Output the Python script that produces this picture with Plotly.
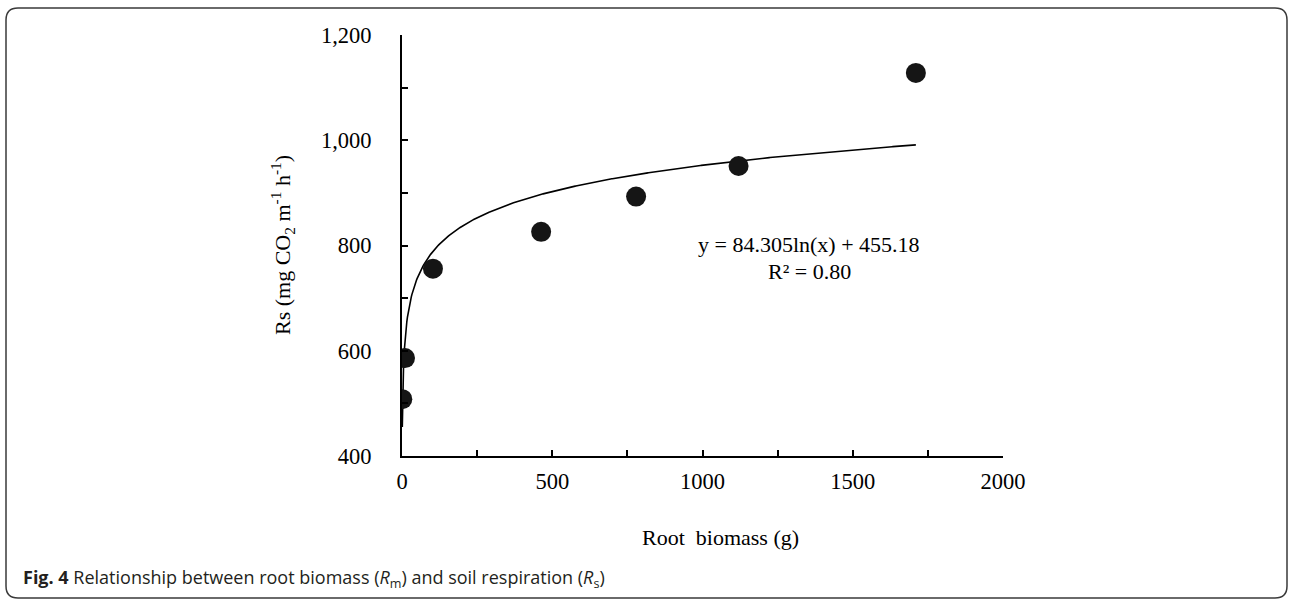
import numpy as np
import plotly.graph_objects as go

# Data
root_biomass = [1, 10, 103, 463, 779, 1120, 1710]
soil_resp = [508, 586, 756, 826, 893, 951, 1128]

# Logarithmic trend curve as drawn in the picture (coefficients)
curve_slope, curve_intercept = 72.0, 455.18
curve_x_min, curve_x_max = 1, 1710
x_fit = np.linspace(curve_x_min, curve_x_max, 800)
y_fit = curve_slope * np.log(x_fit) + curve_intercept

equation_text = "y = 84.305ln(x) + 455.18"
r2_text = "R² = 0.80"

W, H = 1289, 599
def px(x):
    return x / W
def py(y):
    return 1 - y / H

fig = go.Figure()
fig.add_trace(go.Scatter(x=x_fit, y=y_fit, mode="lines",
                         line=dict(color="black", width=1.6), hoverinfo="skip"))
fig.add_trace(go.Scatter(x=root_biomass, y=soil_resp, mode="markers",
                         marker=dict(color="#151515", size=20, line=dict(width=0))))

serif = "Liberation Serif"
fig.update_layout(
    width=W, height=H,
    margin=dict(l=0, r=0, t=0, b=0, pad=0, autoexpand=False),
    paper_bgcolor="white", plot_bgcolor="white",
    showlegend=False,
    font=dict(family=serif, color="black", size=22),
    xaxis=dict(domain=[px(402), px(1003)], range=[0, 2000], dtick=500, automargin=False,
               tickformat="d", showgrid=False, zeroline=False,
               showline=True, linecolor="black", linewidth=2,
               ticks="inside", ticklen=6, tickwidth=1.5, tickcolor="black",
               minor=dict(dtick=250, ticks="inside", ticklen=6, tickwidth=1.5, tickcolor="black"),
               tickfont=dict(family=serif, size=22.5), ticklabelstandoff=4),
    yaxis=dict(domain=[py(456), py(35)], range=[400, 1200], dtick=200, automargin=False,
               tickformat=",d", showgrid=False, zeroline=False,
               showline=True, linecolor="black", linewidth=2,
               ticks="inside", ticklen=6, tickwidth=1.5, tickcolor="black",
               minor=dict(dtick=100, ticks="inside", ticklen=6, tickwidth=1.5, tickcolor="black"),
               tickfont=dict(family=serif, size=22.5), ticklabelstandoff=24),
)

ann = []
ann.append(dict(x=px(283), y=py(245), xref="paper", yref="paper", textangle=-90,
                text="Rs (mg CO<sub>2</sub> m<sup>-1</sup> h<sup>-1</sup>)",
                showarrow=False, font=dict(family=serif, size=22), xanchor="center", yanchor="middle"))
ann.append(dict(x=px(720), y=py(537), xref="paper", yref="paper",
                text="Root  biomass (g)", showarrow=False,
                font=dict(family=serif, size=22), xanchor="center", yanchor="middle"))
ann.append(dict(x=px(809), y=py(245), xref="paper", yref="paper",
                text=equation_text, showarrow=False,
                font=dict(family=serif, size=22), xanchor="center", yanchor="middle"))
ann.append(dict(x=px(809), y=py(271), xref="paper", yref="paper",
                text=r2_text, showarrow=False,
                font=dict(family=serif, size=22), xanchor="center", yanchor="middle"))
ann.append(dict(x=px(21), y=py(578), xref="paper", yref="paper",
                text="<b>Fig. 4</b> Relationship between root biomass (<i>R</i><sub>m</sub>) and soil respiration (<i>R</i><sub>s</sub>)",
                showarrow=False, font=dict(family="Open Sans", size=18, color="#231f20"),
                xanchor="left", yanchor="middle"))
fig.update_layout(annotations=ann)

# rounded frame
x0, x1, y0, y1, r = 6, 1287, 8, 598, 12
path = (f"M {px(x0+r)},{py(y0)} L {px(x1-r)},{py(y0)} "
        f"Q {px(x1)},{py(y0)} {px(x1)},{py(y0+r)} "
        f"L {px(x1)},{py(y1-r)} Q {px(x1)},{py(y1)} {px(x1-r)},{py(y1)} "
        f"L {px(x0+r)},{py(y1)} Q {px(x0)},{py(y1)} {px(x0)},{py(y1-r)} "
        f"L {px(x0)},{py(y0+r)} Q {px(x0)},{py(y0)} {px(x0+r)},{py(y0)} Z")
fig.add_shape(type="path", path=path, xref="paper", yref="paper",
              line=dict(color="#3a3a3a", width=1.5), layer="below")

fig.write_html("out.html", config={"displayModeBar": False},
               post_script="document.body.style.margin='0px';document.body.style.overflow='hidden';")
